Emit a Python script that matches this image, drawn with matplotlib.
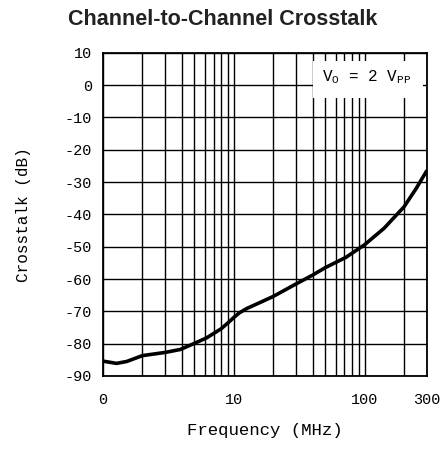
#!/usr/bin/env python
import numpy as np
import matplotlib
matplotlib.use("Agg")
import matplotlib.pyplot as plt
from matplotlib.patches import Rectangle

# crosstalk curve
freq_mhz = [1, 1.27, 1.52, 2, 3, 3.9, 5, 6.2, 8, 9, 10, 11, 12.6,
            16, 20, 30, 40, 50, 72, 100, 141, 200, 248, 300]
crosstalk_db = [-85.4, -86.1, -85.5, -83.7, -82.7, -81.8, -79.9, -78.2, -75.4, -73.6, -71.9, -70.5, -69.1,
                -67.2, -65.4, -61.5, -58.8, -56.5, -53.3, -49.4, -44.3, -37.7, -32.0, -26.4]

xtick_vals = [1, 10, 100, 300]
xtick_labels = ["0", "10", "100", "300"]
ytick_vals = list(range(-90, 11, 10))

mono = ["Liberation Mono", "DejaVu Sans Mono"]
plt.rcParams['axes.unicode_minus'] = False

fig = plt.figure(figsize=(4.44, 4.51), dpi=100)
ax = fig.add_axes([0.232, 0.1663, 0.7297, 0.7169])

ax.plot(freq_mhz, crosstalk_db, color='black', lw=2.6, solid_capstyle='butt',
        solid_joinstyle='round', zorder=3)

ax.set_xscale('log')
ax.set_xlim(1, 300)
ax.set_ylim(-90, 10)

# grid: every decade step on x, every 10 dB on y
minor_x = [m * d for d in (1, 10, 100) for m in range(1, 10) if m * d <= 300]
for xv in minor_x:
    ax.axvline(xv, color='black', lw=1.0, zorder=1)
for yv in ytick_vals:
    ax.axhline(yv, color='black', lw=1.0, zorder=1)

ax.set_xticks(xtick_vals)
ax.set_xticklabels(xtick_labels)
ax.xaxis.set_minor_locator(matplotlib.ticker.NullLocator())
ax.set_yticks(ytick_vals)
ax.tick_params(length=0, labelsize=11)
ax.tick_params(axis='x', pad=12)
ax.tick_params(axis='y', pad=8)
for lab in ax.get_xticklabels() + ax.get_yticklabels():
    lab.set_family(mono)

for s in ax.spines.values():
    s.set_linewidth(1.3)

ax.set_xlabel("Frequency (MHz)", family=mono, fontsize=12.5, labelpad=12)
ax.set_ylabel("Crosstalk (dB)", family=mono, fontsize=11.5, labelpad=24)

# white label box over the grid
ax.add_patch(Rectangle((0.648, 0.861), 0.34, 0.112, transform=ax.transAxes,
                       facecolor='white', edgecolor='none', zorder=2))
ax.text(0.815, 0.925, r"V$_\mathregular{O}$ = 2 V$_\mathregular{PP}$",
        transform=ax.transAxes, ha='center', va='center',
        family=mono, fontsize=11.5, zorder=4)

fig.text(0.502, 0.956, "Channel-to-Channel Crosstalk", ha='center', va='center',
         family=["Liberation Sans", "DejaVu Sans"], fontweight='bold', fontsize=15.5,
         color='#222222')

fig.savefig("out.png", dpi=100)
